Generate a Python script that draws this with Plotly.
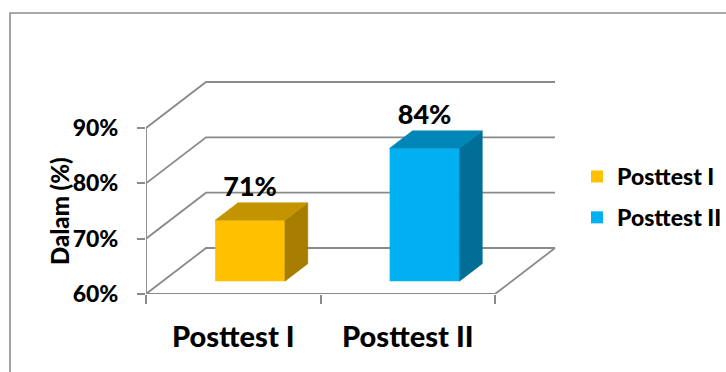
import plotly.graph_objects as go

# ---- data ----
categories = ["Posttest I", "Posttest II"]
values = [71, 84]
y_ticks = [60, 70, 80, 90]
y_tick_labels = ["60%", "70%", "80%", "90%"]

# ---- styling ----
front_colors = ["#FFC000", "#00B0F0"]
top_colors = ["#C49300", "#0087B8"]
side_colors = ["#A67D00", "#006E97"]
grid_color = "#8A8A8A"
FONT = "Lato, Open Sans, sans-serif"
WEIGHT = 900

# figure geometry (pixels)
W, H = 726, 372
ML, MR, MT, MB = 146, 156, 60, 78
PW, PH = W - ML - MR, H - MT - MB
X_RANGE = [0, 2.4298]
Y_RANGE = [60, 102.29]

# oblique depth vector (in data units) and the depth slice occupied by bars
DX, DY = 0.344, 8.31
T0, T1 = 0.28, 0.66
HALF_W = 0.2
BASE = y_ticks[0]


def paper_x(px):
    return (px - ML) / PW


def paper_y(py):
    return (H - MB - py) / PH


fig = go.Figure()

# walls: gridlines on the side wall and back wall, plus the floor edges
shapes = []
line_style = dict(color=grid_color, width=1.8)
n_cat = len(categories)
for v in y_ticks:
    shapes.append(dict(
        type="path", xref="x", yref="y", layer="below", line=line_style,
        path=f"M 0,{v} L {DX},{v + DY} L {n_cat + DX},{v + DY}",
    ))
shapes.append(dict(type="path", xref="x", yref="y", layer="below", line=line_style,
                   path=f"M 0,{BASE} L {n_cat},{BASE} L {n_cat + DX},{BASE + DY}"))
shapes.append(dict(type="line", xref="x", yref="y", layer="below", line=line_style,
                   x0=0, x1=0, y0=BASE, y1=y_ticks[-1]))
# chart frame
shapes.append(dict(type="rect", xref="paper", yref="paper", layer="below",
                   x0=paper_x(10), x1=paper_x(W + 20), y0=paper_y(H + 20), y1=paper_y(13),
                   line=dict(color="#8C8C8C", width=1.6), fillcolor="rgba(0,0,0,0)"))

# front faces of the columns
for i, (cat, v) in enumerate(zip(categories, values)):
    xc = i + 0.5
    fig.add_trace(go.Bar(
        x=[xc + T0 * DX], y=[v - BASE], base=[BASE + T0 * DY], width=[2 * HALF_W],
        marker=dict(color=front_colors[i], line=dict(width=0)),
        name=cat, legendgroup=cat, showlegend=True, hoverinfo="skip",
    ))

# top and side faces of the columns
for i, v in enumerate(values):
    xl, xr = i + 0.5 - HALF_W, i + 0.5 + HALF_W
    top_x = [xl + T0 * DX, xr + T0 * DX, xr + T1 * DX, xl + T1 * DX, xl + T0 * DX]
    top_y = [v + T0 * DY, v + T0 * DY, v + T1 * DY, v + T1 * DY, v + T0 * DY]
    side_x = [xr + T0 * DX, xr + T1 * DX, xr + T1 * DX, xr + T0 * DX, xr + T0 * DX]
    side_y = [BASE + T0 * DY, BASE + T1 * DY, v + T1 * DY, v + T0 * DY, BASE + T0 * DY]
    for xs, ys, col in ((side_x, side_y, side_colors[i]), (top_x, top_y, top_colors[i])):
        fig.add_trace(go.Scatter(
            x=xs, y=ys, mode="lines", fill="toself", fillcolor=col,
            line=dict(width=0.6, color=col), showlegend=False, hoverinfo="skip",
        ))

# value labels above the columns
fig.add_trace(go.Scatter(
    x=[i + 0.5 + T0 * DX for i in range(n_cat)],
    y=[v + T1 * DY for v in values],
    mode="text", text=[f"{v}%" for v in values], textposition="top center",
    textfont=dict(family=FONT, size=27, color="black", weight=WEIGHT),
    showlegend=False, hoverinfo="skip", cliponaxis=False,
))

fig.update_layout(
    width=W, height=H,
    margin=dict(l=ML, r=MR, t=MT, b=MB, pad=0, autoexpand=False),
    paper_bgcolor="white", plot_bgcolor="white",
    shapes=shapes,
    barmode="overlay",
    showlegend=True,
    legend=dict(
        x=paper_x(577), xanchor="left", y=paper_y(197), yanchor="middle",
        font=dict(family=FONT, size=23, color="black", weight=WEIGHT),
        traceorder="grouped", tracegroupgap=8, bgcolor="rgba(0,0,0,0)",
    ),
    xaxis=dict(
        range=X_RANGE, showgrid=False, zeroline=False, showline=False,
        tickmode="array", tickvals=[i + 0.5 for i in range(n_cat)], ticktext=categories,
        ticks="", ticklabelstandoff=23,
        tickfont=dict(family=FONT, size=29, color="black", weight=WEIGHT),
        minor=dict(tickmode="array", tickvals=list(range(n_cat + 1)), ticks="outside",
                   ticklen=9, tickwidth=1.8, tickcolor=grid_color, showgrid=False),
        fixedrange=True,
    ),
    yaxis=dict(
        range=Y_RANGE, showgrid=False, zeroline=False, showline=False,
        tickmode="array", tickvals=y_ticks, ticktext=y_tick_labels,
        ticks="outside", ticklen=8, tickwidth=1.8, tickcolor=grid_color,
        ticklabelstandoff=14,
        tickfont=dict(family=FONT, size=23, color="black", weight=WEIGHT),
        fixedrange=True,
    ),
    annotations=[dict(
        text="Dalam (%)", textangle=-90, xref="paper", yref="paper",
        x=paper_x(60), y=paper_y(211), xanchor="center", yanchor="middle",
        showarrow=False, font=dict(family=FONT, size=24, color="black", weight=WEIGHT),
    )],
)

fig.write_html("out.html")
